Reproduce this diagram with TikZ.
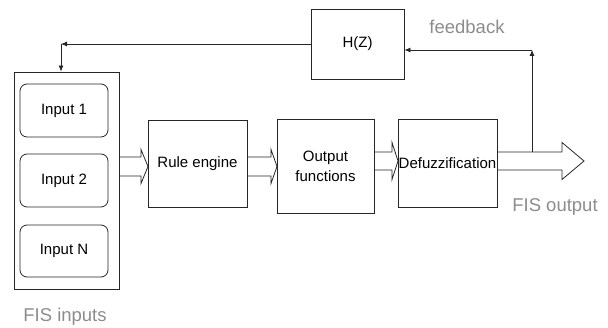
\documentclass[tikz,border=0pt]{standalone}
\usepackage{fontspec}
\setmainfont{Liberation Sans}
\usetikzlibrary{arrows.meta,calc}
\newcommand\hollowarr[6]{%
  \draw[hollow] (#1,#4-#5) -- (#2,#4-#5) -- (#2,#4-#6) -- (#3,#4) -- (#2,#4+#6) -- (#2,#4+#5) -- (#1,#4+#5);}
\begin{document}
\begin{tikzpicture}[x=1pt,y=-1pt,
  box/.style={draw=black!85,line width=0.8pt,inner sep=0pt,font=\fontsize{15}{20}\selectfont,align=center},
  inbox/.style={box,rounded corners=7pt},
  lbl/.style={text=black!45,inner sep=0pt,font=\fontsize{18.5}{22}\selectfont},
  hollow/.style={draw=black!85,line width=0.8pt,line join=miter},
  conn/.style={draw=black!85,line width=0.8pt,-{Latex[length=6pt,width=5pt]}}]
\useasboundingbox (0,0) rectangle (608,328);
\node[box,minimum width=105pt,minimum height=217pt] (inputs) at (66.5,180.5) {};
\node[inbox,minimum width=88pt,minimum height=53pt] (in1) at (64,110.5) {Input 1};
\node[inbox,minimum width=88pt,minimum height=53pt] (in2) at (64,180.5) {Input 2};
\node[inbox,minimum width=88pt,minimum height=52pt] (inN) at (64,251) {Input N};
\node[box,minimum width=99pt,minimum height=87pt] (rule) at (197.5,163.5) {Rule engine};
\node[box,minimum width=97pt,minimum height=94pt] (outf) at (325.5,166) {Output\\functions};
\node[box,minimum width=99pt,minimum height=88pt] (defz) at (447.5,163) {Defuzzification};
\node[box,minimum width=93pt,minimum height=70pt] (hz) at (357.5,44) {H(Z)};
\node[lbl] (fb) at (467,27) {feedback};
\node[lbl] (fisin) at (65,317) {FIS inputs};
\node[lbl] (fisout) at (555,207) {FIS output};
% hollow arrows
\hollowarr{119}{141}{148}{166.5}{9.5}{17}
\hollowarr{247}{271}{277}{166.5}{9.5}{17}
\hollowarr{374}{392}{398}{161}{9}{18.5}
\hollowarr{497}{562}{584}{161}{9}{18.5}
% feedback path
\coordinate (tap) at (532,152);
\coordinate (up) at (532,50);
\coordinate (corner) at (61,44);
\draw[conn] (tap) -- (up);
\draw[conn] (up) -- (hz.east |- up);
\draw[conn] (hz.west) -- (corner);
\draw[conn] (corner) -- (corner |- inputs.north);
\end{tikzpicture}
\end{document}
